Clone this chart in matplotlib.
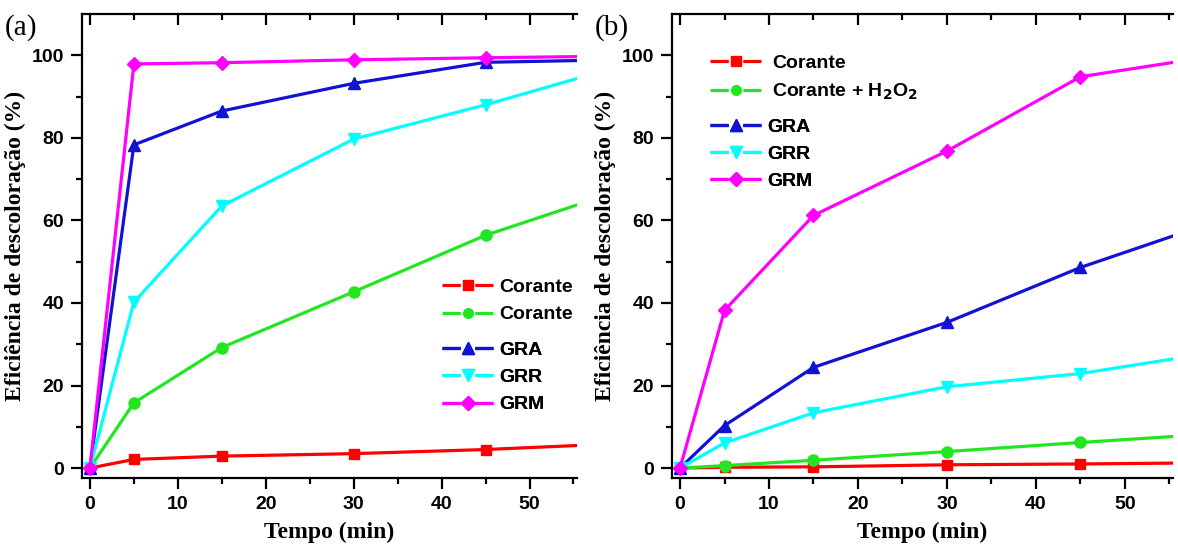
import numpy as np
import matplotlib
matplotlib.use("Agg")
import matplotlib.pyplot as plt
from matplotlib.lines import Line2D

plt.rcParams["lines.scale_dashes"] = False

# tempo de reação (min)
tempo = [0, 5, 15, 30, 45, 60]

# (a) eficiência de descoloração (%)
a_corante = [0, 2.1, 2.9, 3.5, 4.5, 5.9]
a_corante_h2o2 = [0, 15.8, 29.2, 42.7, 56.4, 67.0]
a_gra = [0, 78.3, 86.5, 93.2, 98.3, 98.9]
a_grr = [0, 40.2, 63.5, 79.7, 88.0, 97.2]
a_grm = [0, 97.9, 98.2, 98.9, 99.4, 99.8]

# (b) eficiência de descoloração (%)
b_corante = [0, 0.2, 0.3, 0.8, 1.0, 1.3]
b_corante_h2o2 = [0, 0.6, 1.9, 4.0, 6.2, 8.3]
b_gra = [0, 10.3, 24.4, 35.3, 48.6, 59.6]
b_grr = [0, 6.1, 13.4, 19.7, 22.9, 28.0]
b_grm = [0, 38.2, 61.2, 76.8, 94.8, 99.8]

labels_a = ["Corante", "Corante", "GRA", "GRR", "GRM"]
labels_b = ["Corante", "Corante + H$_\\mathbf{2}$O$_\\mathbf{2}$", "GRA", "GRR", "GRM"]

cores = ["#FF0000", "#22E622", "#1212D2", "#00FFFF", "#FF00FF"]
marcadores = ["s", "o", "^", "v", "D"]
tamanhos = [7.5, 8, 8.5, 8.5, 7.5]
tamanhos_leg = [6.5, 7, 8, 8, 7]

W, H = 1178, 545
fig = plt.figure(figsize=(W / 100, H / 100), dpi=100)

def eixo(l, r, t=14, b=478):
    return fig.add_axes([l / W, 1 - b / H, (r - l) / W, (b - t) / H])

ax_a = eixo(82, 577)
ax_b = eixo(672, 1173)

sans = "Liberation Sans"
serif = "Liberation Serif"
prop_leg = {"family": sans, "weight": "bold", "size": 14}

# traço da legenda interrompido em volta do símbolo
handles = [Line2D([], [], color=c, marker=m, markersize=ms, lw=2.3,
                  linestyle=(0, (13.2, 10.4)))
           for c, m, ms in zip(cores, marcadores, tamanhos_leg)]

def legenda(ax, hs, labels, pos, pad):
    leg = ax.legend(hs, labels, loc="upper left", bbox_to_anchor=pos,
                    frameon=False, prop=prop_leg, handlelength=2.63,
                    handletextpad=pad, labelspacing=0.5, borderaxespad=0,
                    borderpad=0)
    ax.add_artist(leg)

def desenha(ax, series, labels, pos1, pos2, pad1, letra):
    for y, c, m, ms in zip(series, cores, marcadores, tamanhos):
        ax.plot(tempo, y, color=c, marker=m, markersize=ms, lw=2.3)
    ax.set_xlim(-0.9, 55.4)
    ax.set_ylim(-2.4, 110)
    ax.set_xticks([0, 10, 20, 30, 40, 50])
    ax.set_xticks(np.arange(5, 56, 10), minor=True)
    ax.set_yticks([0, 20, 40, 60, 80, 100])
    ax.set_yticks(np.arange(10, 110, 20), minor=True)
    ax.spines["right"].set_visible(False)
    for s in ["left", "bottom", "top"]:
        ax.spines[s].set_linewidth(1.6)
    ax.tick_params(axis="both", which="major", direction="out", length=8,
                   width=1.6, labelsize=14, pad=5, top=True, right=False)
    ax.tick_params(axis="both", which="minor", direction="out", length=4.5,
                   width=1.6, top=True, right=False)
    # marcas do eixo superior voltadas para dentro
    for t in ax.xaxis.get_major_ticks() + ax.xaxis.get_minor_ticks():
        t.tick2line.set_marker(3)
    for lab in ax.get_xticklabels() + ax.get_yticklabels():
        lab.set_fontfamily(sans)
        lab.set_fontweight("bold")
    ax.set_xlabel("Tempo (min)", fontfamily=serif, fontweight="bold",
                  fontsize=17, labelpad=6)
    ax.set_ylabel("Eficiência de descoloração (%)", fontfamily=serif,
                  fontweight="bold", fontsize=17, labelpad=4)
    legenda(ax, handles[:2], labels[:2], pos1, pad1)
    legenda(ax, handles[2:], labels[2:], pos2, 0.3)
    fig.text(ax.get_position().x0 - 77 / W, 1 - 14 / H, letra,
             fontfamily=serif, fontsize=21, va="top", ha="left")

desenha(ax_a, [a_corante, a_corante_h2o2, a_gra, a_grr, a_grm], labels_a,
        (0.728, 0.43), (0.728, 0.295), 0.3, "(a)")
desenha(ax_b, [b_corante, b_corante_h2o2, b_gra, b_grr, b_grm], labels_b,
        (0.076, 0.913), (0.076, 0.776), 0.55, "(b)")

fig.savefig("out.png", dpi=100)
